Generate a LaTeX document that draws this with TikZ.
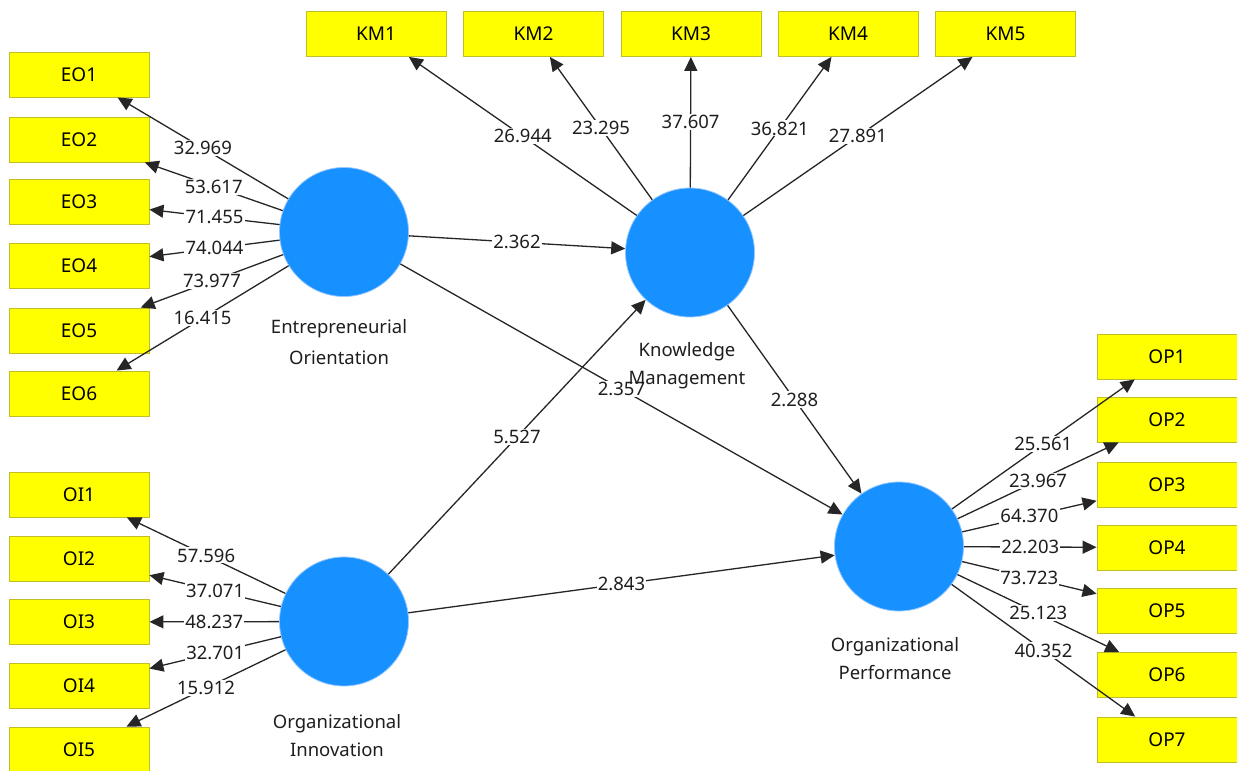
\documentclass[tikz,border=0pt]{standalone}
\usepackage{fontspec}
\setmainfont{Noto Sans}
\usetikzlibrary{arrows.meta}
\definecolor{lvblue}{RGB}{22,145,255}
\definecolor{lvring}{RGB}{150,200,255}
\definecolor{indfill}{RGB}{255,255,0}
\definecolor{indline}{RGB}{190,190,40}
\definecolor{ink}{RGB}{30,30,30}
\begin{document}
\begin{tikzpicture}[x=1pt,y=-1pt,
  lv/.style={circle, fill=lvblue, draw=lvring, line width=0.8pt, minimum size=129pt, inner sep=0pt},
  ind/.style={rectangle, fill=indfill, draw=indline, line width=0.9pt, minimum width=140pt, minimum height=45pt, inner sep=0pt, font=\fontsize{19}{21}\selectfont},
  arr/.style={-{Triangle[length=14pt,width=13pt]}, line width=1.3pt, draw=black!85},
  val/.style={fill=white, inner sep=1.2pt, text=ink, font=\fontsize{18.5}{20}\selectfont},
  lvname/.style={align=center, text=ink, font=\fontsize{18.5}{28}\selectfont}]
\clip (0,0) rectangle (1237,771);
\fill[white] (0,0) rectangle (1237,771);

% latent variables
\node[lv] (eo) at (344,232) {};
\node[lv] (oi) at (344,621.5) {};
\node[lv] (km) at (690,252.5) {};
\node[lv] (op) at (899,546.5) {};

% indicator boxes
\foreach \i/\y in {1/74.5,2/139.5,3/201.5,4/265.5,5/330.5,6/393.5}
  \node[ind] (eo\i) at (79,\y) {EO\i};
\foreach \i/\y in {1/494.5,2/558.5,3/622,4/685.5,5/749.5}
  \node[ind] (oi\i) at (79,\y) {OI\i};
\foreach \i/\x in {1/376,2/533.5,3/691,4/848,5/1005.5}
  \node[ind] (km\i) at (\x,34) {KM\i};
\foreach \i/\y in {1/356.5,2/419.5,3/484.5,4/547.5,5/610.5,6/675,7/739.5}
  \node[ind] (op\i) at (1167,\y) {OP\i};

% connectors
\foreach \i in {1,...,6} \draw[arr] (eo) -- (eo\i);
\foreach \i in {1,...,5} \draw[arr] (oi) -- (oi\i);
\foreach \i in {1,...,5} \draw[arr] (km) -- (km\i);
\foreach \i in {1,...,7} \draw[arr] (op) -- (op\i);
\draw[arr] (eo) -- (km);
\draw[arr] (eo) -- (op);
\draw[arr] (oi) -- (km);
\draw[arr] (km) -- (op);
\draw[arr] (oi) -- (op);

% coefficient labels
\foreach \i/\v in {1/32.969,2/53.617,3/71.455,4/74.044,5/73.977,6/16.415}
  \path (eo) -- node[val] (veo\i) {\v} (eo\i);
\foreach \i/\v in {1/57.596,2/37.071,3/48.237,4/32.701,5/15.912}
  \path (oi) -- node[val] (voi\i) {\v} (oi\i);
\foreach \i/\v in {1/26.944,2/23.295,3/37.607,4/36.821,5/27.891}
  \path (km) -- node[val] (vkm\i) {\v} (km\i);
\foreach \i/\v in {1/25.561,2/23.967,3/64.370,4/22.203,5/73.723,6/25.123,7/40.352}
  \path (op) -- node[val] (vop\i) {\v} (op\i);
\path (eo) -- node[val] (veokm) {2.362} (km);
\path (eo) -- node[val] (veoop) {2.357} (op);
\path (oi) -- node[val] (voikm) {5.527} (km);
\path (km) -- node[val] (vkmop) {2.288} (op);
\path (oi) -- node[val] (voiop) {2.843} (op);

% latent variable names
\node[lvname, font=\fontsize{18.5}{31}\selectfont] (neo) at (339,342.5) {Entrepreneurial\\Orientation};
\node[lvname] (noi) at (337,735.5) {Organizational\\Innovation};
\node[lvname] (nkm) at (687,366) {Knowledge\\Management};
\node[lvname] (nop) at (895,659) {Organizational\\Performance};
\end{tikzpicture}
\end{document}
